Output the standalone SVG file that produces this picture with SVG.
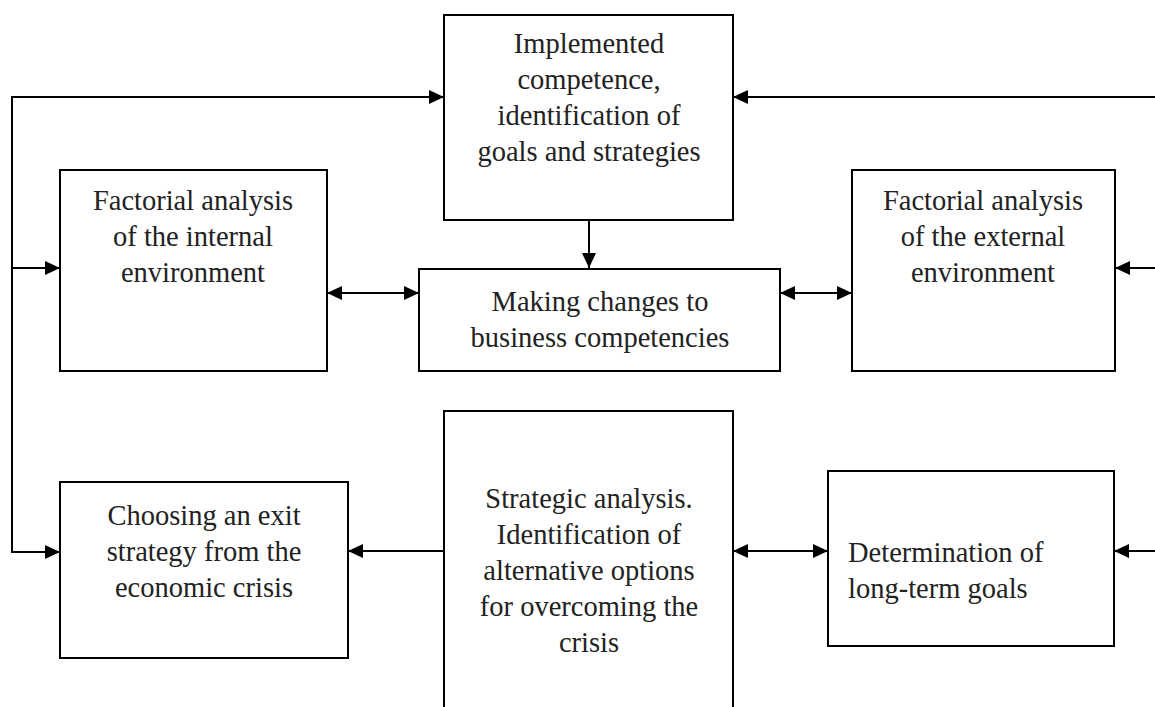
<svg xmlns="http://www.w3.org/2000/svg" width="1155" height="707" viewBox="0 0 1155 707">
<style>
.box{fill:#fff;stroke:#000;stroke-width:2}
.t{font-family:"Liberation Serif","Times New Roman",serif;font-size:28.5px;fill:#222;text-anchor:middle}
.tl{font-family:"Liberation Serif","Times New Roman",serif;font-size:28.5px;fill:#222;text-anchor:start}
.c{fill:none;stroke:#000;stroke-width:2}
</style>
<defs>
<marker id="ah" markerUnits="userSpaceOnUse" markerWidth="16" markerHeight="14" refX="15" refY="7" orient="auto-start-reverse">
<path d="M0,0 L15,7 L0,14 Z" fill="#000"/>
</marker>
</defs>
<rect width="1155" height="707" fill="#fff"/>
<g id="connectors">
<path class="c" d="M12,97 H444" marker-end="url(#ah)"/>
<path class="c" d="M12,96 V552 H60" marker-end="url(#ah)"/>
<path class="c" d="M12,268 H60" marker-end="url(#ah)"/>
<path class="c" d="M1155,97 H733" marker-end="url(#ah)"/>
<path class="c" d="M1155,268 H1115" marker-end="url(#ah)"/>
<path class="c" d="M1155,551 H1114" marker-end="url(#ah)"/>
<path class="c" d="M589,220 V268" marker-end="url(#ah)"/>
<path class="c" d="M327,293 H419" marker-start="url(#ah)" marker-end="url(#ah)"/>
<path class="c" d="M780,293 H852" marker-start="url(#ah)" marker-end="url(#ah)"/>
<path class="c" d="M444,551 H348" marker-end="url(#ah)"/>
<path class="c" d="M733,551 H828" marker-start="url(#ah)" marker-end="url(#ah)"/>
</g>
<g id="node-implemented">
<rect class="box" x="444" y="15" width="289" height="205"/>
<text class="t" x="589" y="53">Implemented</text>
<text class="t" x="589" y="89">competence,</text>
<text class="t" x="589" y="125">identification of</text>
<text class="t" x="589" y="161">goals and strategies</text>
</g>
<g id="node-internal">
<rect class="box" x="60" y="170" width="267" height="201"/>
<text class="t" x="193" y="210">Factorial analysis</text>
<text class="t" x="193" y="246">of the internal</text>
<text class="t" x="193" y="282">environment</text>
</g>
<g id="node-changes">
<rect class="box" x="419" y="269" width="361" height="102"/>
<text class="t" x="600" y="311">Making changes to</text>
<text class="t" x="600" y="347">business competencies</text>
</g>
<g id="node-external">
<rect class="box" x="852" y="170" width="263" height="201"/>
<text class="t" x="983" y="210">Factorial analysis</text>
<text class="t" x="983" y="246">of the external</text>
<text class="t" x="983" y="282">environment</text>
</g>
<g id="node-exit">
<rect class="box" x="60" y="482" width="288" height="176"/>
<text class="t" x="204" y="525">Choosing an exit</text>
<text class="t" x="204" y="561">strategy from the</text>
<text class="t" x="204" y="597">economic crisis</text>
</g>
<g id="node-strategic">
<rect class="box" x="444" y="411" width="289" height="310"/>
<text class="t" x="589" y="508">Strategic analysis.</text>
<text class="t" x="589" y="544">Identification of</text>
<text class="t" x="589" y="580">alternative options</text>
<text class="t" x="589" y="616">for overcoming the</text>
<text class="t" x="589" y="652">crisis</text>
</g>
<g id="node-longterm">
<rect class="box" x="828" y="471" width="286" height="175"/>
<text class="tl" x="848" y="562">Determination of</text>
<text class="tl" x="848" y="598">long-term goals</text>
</g>
</svg>
